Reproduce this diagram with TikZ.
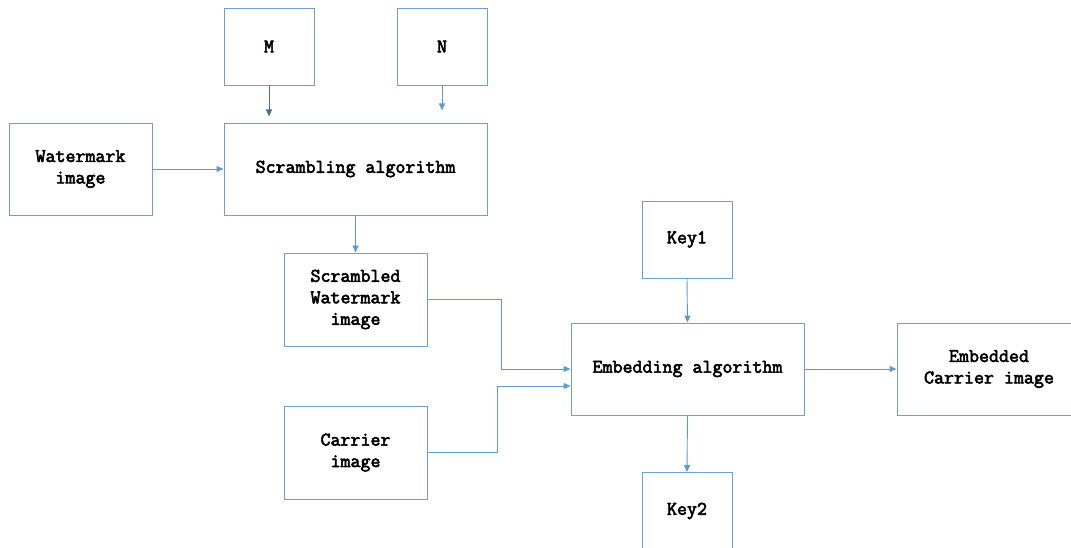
\documentclass[tikz,border=0pt]{standalone}
\usepackage{fontspec}
\newfontfamily\boxfont{Latin Modern Mono}[AutoFakeBold=3]
\usetikzlibrary{arrows.meta}
\definecolor{boxc}{HTML}{6E9FD3}
\definecolor{linec}{HTML}{5B9BD5}
\definecolor{darkc}{HTML}{41719C}
\begin{document}
\begin{tikzpicture}[x=1pt,y=-1pt,
  box/.style={draw=boxc,line width=0.9pt,inner sep=0pt,align=center,
    font=\boxfont\bfseries\fontsize{19.4}{21.5}\selectfont},
  conn/.style={draw=linec,line width=0.9pt,-{Triangle[length=7pt,width=6pt]}}]
\useasboundingbox (0,0) rectangle (1071,548);
\node[box,minimum width=90pt,minimum height=77pt] (m) at (269,46.5) {M};
\node[box,minimum width=90pt,minimum height=77pt] (n) at (442,46.5) {N};
\node[box,minimum width=263pt,minimum height=92pt] (scr) at (355.5,169) {Scrambling algorithm};
\node[box,minimum width=143pt,minimum height=92pt] (wm) at (80.5,169) {Watermark\\image};
\node[box,minimum width=143pt,minimum height=93pt] (sw) at (355.5,299.5) {Scrambled\\Watermark\\image};
\node[box,minimum width=143pt,minimum height=93pt] (car) at (355.5,452.5) {Carrier\\image};
\node[box,minimum width=90pt,minimum height=77pt] (k1) at (687,239.5) {Key1};
\node[box,minimum width=233pt,minimum height=92pt] (emb) at (687.5,369) {Embedding algorithm};
\node[box,minimum width=184pt,minimum height=92pt] (ec) at (989,369) {Embedded\\Carrier image};
\node[box,minimum width=90pt,minimum height=77pt] (k2) at (687,511) {Key2};
\draw[conn,draw=darkc] (m.south) -- ++(0,31);
\draw[conn] (n.south) -- ++(0,25);
\draw[conn] (wm.east) -- (scr.west);
\draw[conn] (scr.south) -- (sw.north);
\draw[conn] (sw.east) -- ++(74,0) |- (emb.west);
\draw[conn] (car.east) -- ++(70,0) |- ([yshift=-17pt]emb.west);
\draw[conn] (k1.south) -- (emb.north);
\draw[conn] (emb.east) -- (ec.west);
\draw[conn] (emb.south) -- (k2.north);
\end{tikzpicture}
\end{document}
